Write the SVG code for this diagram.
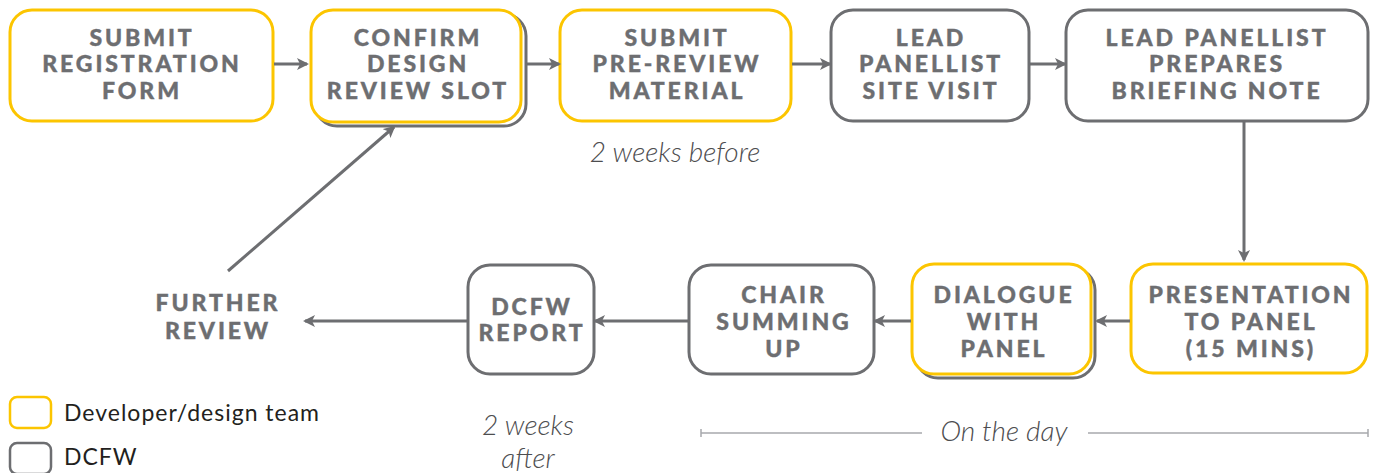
<svg xmlns="http://www.w3.org/2000/svg" width="1375" height="473" viewBox="0 0 1375 473">
<defs>
<marker id="ah" markerWidth="12" markerHeight="12" refX="10" refY="6" orient="auto" markerUnits="userSpaceOnUse" viewBox="0 0 12 12">
<path d="M0,0 L12,6 L0,12 L3,6 Z" fill="#6d6e71"/>
</marker>
<style>
.y{fill:#fff;stroke:#fcc500;stroke-width:3}
.g{fill:#fff;stroke:#6d6e71;stroke-width:3}
.t{font-family:Lato,"Open Sans",sans-serif;font-weight:900;font-size:23px;letter-spacing:2.9px;fill:#6d6e71;text-anchor:middle;stroke:#6d6e71;stroke-width:0.4}
.it{font-family:Lato,"Open Sans",sans-serif;font-style:italic;font-weight:300;font-size:28px;fill:#4d4d4f;text-anchor:middle}
.lg{font-family:Lato,"Open Sans",sans-serif;font-size:23px;letter-spacing:1px;fill:#231f20}
.c{stroke:#6d6e71;stroke-width:3;fill:none;marker-end:url(#ah)}
</style>
</defs>
<rect width="1375" height="473" fill="#fff"/>

<g id="n1"><rect class="y" x="10" y="10" width="263" height="111" rx="22"/>
<text class="t" x="142" y="46">SUBMIT</text><text class="t" x="142" y="72">REGISTRATION</text><text class="t" x="142" y="99">FORM</text></g>

<g id="n2"><rect class="g" x="315" y="14" width="211" height="112" rx="22"/><rect class="y" x="311" y="10" width="210" height="112" rx="22"/>
<text class="t" x="418" y="46">CONFIRM</text><text class="t" x="418" y="72">DESIGN</text><text class="t" x="418" y="99">REVIEW SLOT</text></g>

<g id="n3"><rect class="y" x="560" y="10" width="231" height="111" rx="22"/>
<text class="t" x="677" y="46">SUBMIT</text><text class="t" x="677" y="72">PRE-REVIEW</text><text class="t" x="677" y="99">MATERIAL</text></g>

<g id="n4"><rect class="g" x="831" y="10" width="198" height="111" rx="22"/>
<text class="t" x="931" y="46">LEAD</text><text class="t" x="931" y="72">PANELLIST</text><text class="t" x="931" y="99">SITE VISIT</text></g>

<g id="n5"><rect class="g" x="1066" y="10" width="302" height="111" rx="22"/>
<text class="t" x="1217" y="46">LEAD PANELLIST</text><text class="t" x="1217" y="72">PREPARES</text><text class="t" x="1217" y="99">BRIEFING NOTE</text></g>

<g id="n6"><rect class="y" x="1131" y="264" width="236" height="109" rx="22"/>
<text class="t" x="1251" y="303">PRESENTATION</text><text class="t" x="1251" y="330">TO PANEL</text><text class="t" x="1251" y="357">(15 MINS)</text></g>

<g id="n7"><rect class="g" x="916" y="268" width="179" height="110" rx="22"/><rect class="y" x="912" y="264" width="179" height="110" rx="22"/>
<text class="t" x="1004" y="303">DIALOGUE</text><text class="t" x="1004" y="330">WITH</text><text class="t" x="1004" y="357">PANEL</text></g>

<g id="n8"><rect class="g" x="689" y="265" width="185" height="109" rx="22"/>
<text class="t" x="784" y="303">CHAIR</text><text class="t" x="784" y="330">SUMMING</text><text class="t" x="784" y="357">UP</text></g>

<g id="n9"><rect class="g" x="468" y="265" width="126" height="109" rx="22"/>
<text class="t" x="532" y="315">DCFW</text><text class="t" x="532" y="341">REPORT</text></g>

<g id="n10"><text class="t" x="218" y="311">FURTHER</text><text class="t" x="218" y="339">REVIEW</text></g>

<g id="connectors">
<line class="c" x1="274" y1="64" x2="307" y2="64"/>
<line class="c" x1="527" y1="64" x2="559" y2="64"/>
<line class="c" x1="792" y1="64" x2="830" y2="64"/>
<line class="c" x1="1030" y1="64" x2="1065" y2="64"/>
<line class="c" x1="1244" y1="121" x2="1244" y2="260"/>
<line class="c" x1="1130" y1="321" x2="1097" y2="321"/>
<line class="c" x1="911" y1="321" x2="875" y2="321"/>
<line class="c" x1="688" y1="321" x2="595" y2="321"/>
<line class="c" x1="467" y1="321" x2="305" y2="321"/>
<line class="c" x1="228" y1="271" x2="394" y2="127"/>
</g>

<text class="it" x="675" y="162">2 weeks before</text>
<text class="it" x="528" y="435">2 weeks</text>
<text class="it" x="528" y="468">after</text>

<g id="onday" stroke="#a7a9ac" stroke-width="1.5">
<line x1="701" y1="433" x2="922" y2="433"/><line x1="1088" y1="433" x2="1368" y2="433"/>
<line x1="701" y1="429" x2="701" y2="437"/><line x1="1368" y1="429" x2="1368" y2="437"/>
</g>
<text class="it" x="1004" y="441">On the day</text>

<g id="legend">
<rect x="10" y="397" width="41" height="31" rx="7" fill="#fff" stroke="#fcc500" stroke-width="2.5"/>
<rect x="10" y="443" width="41" height="31" rx="7" fill="#fff" stroke="#6d6e71" stroke-width="2.5"/>
<text class="lg" x="64" y="421">Developer/design team</text>
<text class="lg" x="64" y="465">DCFW</text>
</g>
</svg>
